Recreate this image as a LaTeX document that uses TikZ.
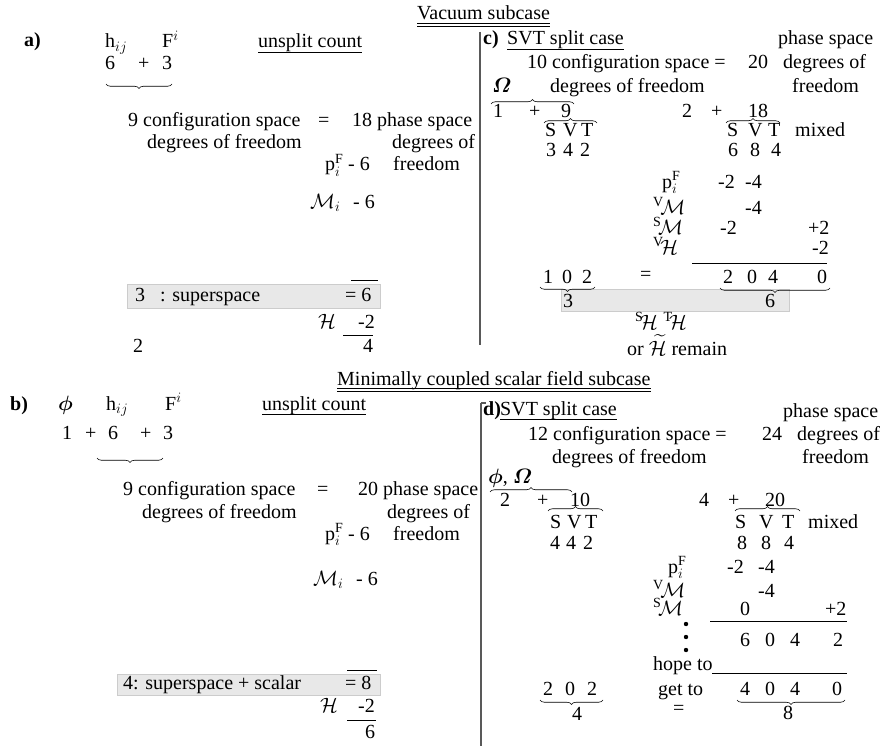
\documentclass[tikz,border=0pt]{standalone}
\usepackage{amsmath}
\usepackage{bm}
\usepackage{fontspec}
\setmainfont{Liberation Serif}
\usetikzlibrary{decorations.pathreplacing}
\newcommand{\fs}{\fontsize{20}{24}\selectfont}
\newcommand{\putt}[5][t]{\node[#1] (#2) at (#3,#4) {#5};}
\tikzset{
  t/.style={anchor=base west, inner sep=0pt, font=\fs},
  tb/.style={t, font=\fs\bfseries},
  ulin/.style={line width=0.6pt},
  vbar/.style={line width=1.6pt, draw=black!65},
  brc/.style={decorate, decoration={brace, amplitude=4.5pt}, line width=0.6pt},
  gbox/.style={fill=black!9, draw=black!20, line width=0.5pt},
  dotm/.style={fill=black, draw=none, circle, inner sep=0pt, minimum size=4.4pt},
}
\begin{document}
\begin{tikzpicture}[x=1pt,y=-1pt]
\useasboundingbox (0,0) rectangle (893,746);
% gray boxes
\path[gbox] (127,284) rectangle (380,308);
\path[gbox] (561,289) rectangle (789,311);
\path[gbox] (117,674) rectangle (380,695);
% dividers
\draw[vbar] (480,32) -- (480,345);
\draw[vbar] (481,403) -- (481,746);
\draw[vbar] (481,403) -- (486,403);
% ===== titles
\putt{ti1}{417}{20}{Vacuum subcase}
\draw[ulin] ([yshift=-3.5pt]ti1.base west) -- ([yshift=-3.5pt]ti1.base east);
\draw[ulin] ([yshift=-6.5pt]ti1.base west) -- ([yshift=-6.5pt]ti1.base east);
\putt{ti2}{337}{385}{Minimally coupled scalar field subcase}
\draw[ulin] ([yshift=-3.5pt]ti2.base west) -- ([yshift=-3.5pt]ti2.base east);
\draw[ulin] ([yshift=-6.5pt]ti2.base west) -- ([yshift=-6.5pt]ti2.base east);
% ===== panel a
\putt[tb]{la}{24}{47}{a)}
\putt{ah}{105}{48}{h$_{ij}$}
\putt{af}{162}{48}{F$^{i}$}
\putt{au}{258}{48}{unsplit count}
\draw[ulin] ([yshift=-4pt]au.base west) -- ([yshift=-4pt]au.base east);
\putt{a6}{105}{70}{6}
\putt{ap}{138}{70}{+}
\putt{a3}{162}{70}{3}
\draw[brc] (172,84) -- (106,84);
\putt{ac1}{128}{127}{9 configuration space}
\putt{aeq}{318}{127}{=}
\putt{ap1}{352}{127}{18 phase space}
\putt{ac2}{147}{149}{degrees of freedom}
\putt{ap2}{392}{149}{degrees of}
\putt{apf}{325}{171}{p$^{\mathrm{F}}_{i}$}
\putt{apm}{348}{171}{- 6}
\putt{ap3}{393}{171}{freedom}
\putt{amc}{310}{208}{$\mathcal{M}_i$}
\putt{amm}{353}{208}{- 6}
\putt{a3s}{135}{301}{3}
\putt{asu}{160}{301}{: superspace}
\putt{ae6}{345}{301}{= 6}
\draw[ulin] (351,280) -- (378,280);
\putt{ahc}{318}{328}{$\mathcal{H}$}
\putt{ah2}{358}{328}{-2}
\draw[ulin] (343,335) -- (373,335);
\putt{a4}{363}{352}{4}
\putt{a2}{133}{352}{2}
% ===== panel c
\putt[tb]{lc}{483}{45}{c)}
\putt{cs}{507}{45}{SVT split case}
\draw[ulin] ([yshift=-4pt]cs.base west) -- ([yshift=-4pt]cs.base east);
\putt{cph}{778}{45}{phase space}
\putt{cc1}{527}{69}{10 configuration space =}
\putt{c20}{748}{69}{20}
\putt{cdg}{783}{69}{degrees of}
\putt{com}{492}{93}{$\bm{\varOmega}$}
\putt{cc2}{550}{93}{degrees of freedom}
\putt{cfr}{792}{93}{freedom}
\draw[brc] (491,104) -- (574,104);
\putt{c1}{493}{118}{1}
\putt{cp}{529}{118}{+}
\putt{c9}{561}{118}{9}
\draw[brc] (544,123) -- (597,123);
\putt{cS}{545}{137}{S}
\putt{cV}{563}{137}{V}
\putt{cT}{581}{137}{T}
\putt{cn3}{546}{157}{3}
\putt{cn4}{563}{157}{4}
\putt{cn2}{580}{157}{2}
\putt{cr2}{682}{118}{2}
\putt{crp}{711}{118}{+}
\putt{c18}{748}{118}{18}
\draw[brc] (726,123) -- (780,123);
\putt{crS}{727}{137}{S}
\putt{crV}{748}{137}{V}
\putt{crT}{768}{137}{T}
\putt{cmx}{795}{137}{mixed}
\putt{cr6}{728}{157}{6}
\putt{cr8}{750}{157}{8}
\putt{cr4}{771}{157}{4}
\putt{cpf}{662}{188}{p$^{\mathrm{F}}_{i}$}
\putt{cpa}{718}{188}{-2}
\putt{cpb}{745}{188}{-4}
\putt{cvm}{653}{214}{${}^{\mathrm{V}}\!\mathcal{M}$}
\putt{cvma}{745}{214}{-4}
\putt{csm}{653}{234}{${}^{\mathrm{S}}\!\mathcal{M}$}
\putt{csma}{720}{234}{-2}
\putt{csmb}{808}{234}{+2}
\putt{cvh}{653}{254}{${}^{\mathrm{V}}\!\mathcal{H}$}
\putt{cvha}{812}{254}{-2}
\draw[ulin] (692,263) -- (827,263);
\putt{cb1}{543}{283}{1}
\putt{cb0}{562}{283}{0}
\putt{cb2}{582}{283}{2}
\draw[brc] (595,287) -- (540,287);
\putt{ceq}{640}{280}{=}
\putt{cd2}{723}{283}{2}
\putt{cd0}{747}{283}{0}
\putt{cd4}{768}{283}{4}
\putt{cd0b}{817}{283}{0}
\draw[brc] (830,288) -- (720,288);
\putt{cg3}{563}{307}{3}
\putt{cg6}{765}{307}{6}
\putt{csh}{635}{329}{${}^{\mathrm{S}}\!\mathcal{H}\;{}^{\mathrm{T}}\!\mathcal{H}$}
\putt{cor}{627}{355}{or $\widetilde{\mathcal{H}}$ remain}
% ===== panel b
\putt[tb]{lb}{10}{410}{b)}
\putt{bph}{58}{410}{$\bm{\phi}$}
\putt{bh}{106}{410}{h$_{ij}$}
\putt{bf}{165}{410}{F$^{i}$}
\putt{bu}{262}{410}{unsplit count}
\draw[ulin] ([yshift=-4pt]bu.base west) -- ([yshift=-4pt]bu.base east);
\putt{b1}{62}{439}{1}
\putt{bp1}{85}{439}{+}
\putt{b6}{108}{439}{6}
\putt{bp2}{140}{439}{+}
\putt{b3}{163}{439}{3}
\draw[brc] (163,458) -- (97,458);
\putt{bc1}{123}{495}{9 configuration space}
\putt{beq}{317}{495}{=}
\putt{bp1t}{358}{495}{20 phase space}
\putt{bc2}{142}{518}{degrees of freedom}
\putt{bp2t}{387}{518}{degrees of}
\putt{bpf}{325}{540}{p$^{\mathrm{F}}_{i}$}
\putt{bpm}{348}{540}{- 6}
\putt{bp3}{393}{540}{freedom}
\putt{bmc}{313}{585}{$\mathcal{M}_i$}
\putt{bmm}{356}{585}{- 6}
\putt{bsu}{123}{689}{4: superspace + scalar}
\putt{be8}{345}{689}{= 8}
\draw[ulin] (347,670) -- (377,670);
\putt{bhc}{320}{712}{$\mathcal{H}$}
\putt{bh2}{358}{712}{-2}
\draw[ulin] (347,720) -- (376,720);
\putt{b6b}{365}{738}{6}
% ===== panel d
\putt[tb]{ld}{483}{415}{d)}
\putt{ds}{500}{415}{SVT split case}
\draw[ulin] ([yshift=-4pt]ds.base west) -- ([yshift=-4pt]ds.base east);
\putt{dph}{783}{417}{phase space}
\putt{dc1}{528}{440}{12 configuration space =}
\putt{d24}{762}{440}{24}
\putt{ddg}{797}{440}{degrees of}
\putt{dc2}{552}{463}{degrees of freedom}
\putt{dfr}{802}{463}{freedom}
\putt{dpo}{488}{483}{$\bm{\phi}$, $\bm{\varOmega}$}
\draw[brc] (490,492) -- (572,492);
\putt{d2}{500}{506}{2}
\putt{dp}{537}{506}{+}
\putt{d10}{570}{506}{10}
\draw[brc] (548,511) -- (603,511);
\putt{dS}{550}{528}{S}
\putt{dV}{567}{528}{V}
\putt{dT}{585}{528}{T}
\putt{dn4}{550}{549}{4}
\putt{dn4b}{566}{549}{4}
\putt{dn2}{583}{549}{2}
\putt{dr4}{699}{506}{4}
\putt{drp}{728}{506}{+}
\putt{d20}{765}{506}{20}
\draw[brc] (735,511) -- (800,511);
\putt{drS}{735}{528}{S}
\putt{drV}{759}{528}{V}
\putt{drT}{782}{528}{T}
\putt{dmx}{808}{528}{mixed}
\putt{dr8}{737}{549}{8}
\putt{dr8b}{761}{549}{8}
\putt{dr4b}{784}{549}{4}
\putt{dpf}{668}{573}{p$^{\mathrm{F}}_{i}$}
\putt{dpa}{727}{573}{-2}
\putt{dpb}{758}{573}{-4}
\putt{dvm}{653}{597}{${}^{\mathrm{V}}\!\mathcal{M}$}
\putt{dvma}{758}{597}{-4}
\putt{dsm}{653}{615}{${}^{\mathrm{S}}\!\mathcal{M}$}
\putt{dsma}{740}{615}{0}
\putt{dsmb}{825}{615}{+2}
\draw[ulin] (710,621) -- (847,621);
\node[dotm] (dd1) at (686,624) {};
\node[dotm] (dd2) at (686,637) {};
\node[dotm] (dd3) at (686,650) {};
\putt{de6}{740}{646}{6}
\putt{de0}{765}{646}{0}
\putt{de4}{790}{646}{4}
\putt{de2}{833}{646}{2}
\putt{dho}{653}{670}{hope to}
\draw[ulin] (712,673) -- (847,673);
\putt{dg2}{543}{695}{2}
\putt{dg0}{565}{695}{0}
\putt{dg2b}{587}{695}{2}
\draw[brc] (603,700) -- (540,700);
\putt{dg4}{572}{720}{4}
\putt{dgt}{658}{695}{get to}
\putt{deq}{673}{714}{=}
\putt{dh4}{740}{695}{4}
\putt{dh0}{765}{695}{0}
\putt{dh4b}{790}{695}{4}
\putt{dh0b}{832}{695}{0}
\draw[brc] (845,700) -- (737,700);
\putt{dh8}{783}{719}{8}
\end{tikzpicture}
\end{document}
